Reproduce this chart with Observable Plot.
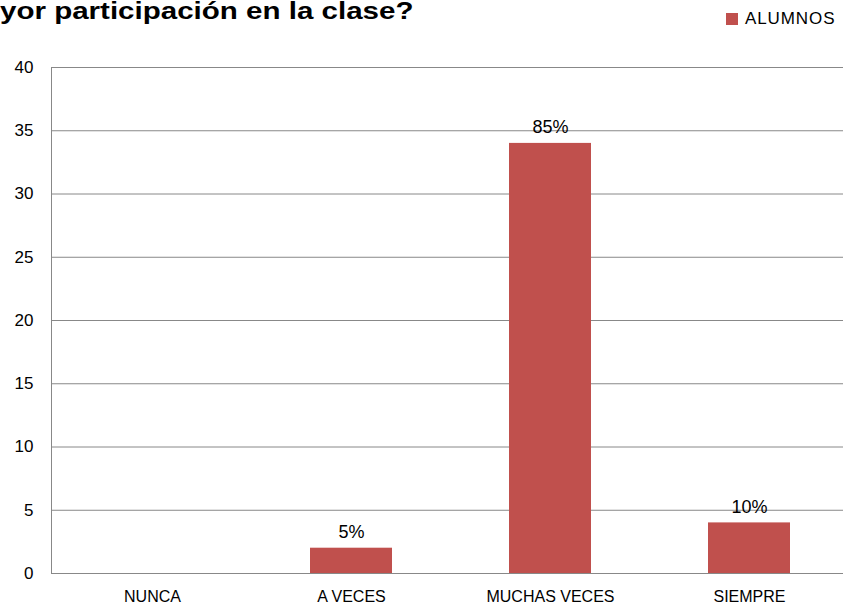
<!DOCTYPE html>
<html>
<head>
<meta charset="utf-8">
<script src="https://cdn.jsdelivr.net/npm/d3@7"></script>
<script src="https://cdn.jsdelivr.net/npm/@observablehq/plot@0.6"></script>
<style>
  html, body { margin: 0; padding: 0; background: #fff; overflow: hidden; }
  #wrap { position: relative; width: 843px; height: 606px; }
  #header { position: relative; width: 843px; height: 50px; }
  #title { position: absolute; left: 0; top: -3px; font-family: "Liberation Sans", Arial, sans-serif; font-weight: bold; font-size: 24px; color: #000; white-space: nowrap; transform: scaleX(1.23); transform-origin: left top; }
  #legend { position: absolute; left: 726px; top: 9px; font-family: "Liberation Sans", Arial, sans-serif; font-size: 17px; color: #000; display: flex; align-items: center; white-space: nowrap; }
  #legend .sw { width: 12px; height: 12px; margin-right: 7px; }
  #legtext { letter-spacing: 0.9px; }
</style>
</head>
<body>
<div id="wrap">
  <div id="header">
    <div id="title">yor participación en la clase?</div>
    <div id="legend"><span class="sw" id="sw"></span><span id="legtext"></span></div>
  </div>
  <div id="chart"></div>
</div>
<script>
const categories = ["NUNCA", "A VECES", "MUCHAS VECES", "SIEMPRE"];
const values = [0, 2, 34, 4];
const labels = ["", "5%", "85%", "10%"];
const yTicks = [0, 5, 10, 15, 20, 25, 30, 35, 40];
const seriesName = "ALUMNOS";
const barColor = "#C0504D";

document.getElementById("sw").style.background = barColor;
document.getElementById("legtext").textContent = seriesName;

const data = categories.map((c, i) => ({cat: c, value: values[i], label: labels[i]}));

const leftLine = (index, scales, values, dimensions) => {
  const x = dimensions.marginLeft + 0.5;
  const line = d3.create("svg:line")
    .attr("x1", x).attr("x2", x)
    .attr("y1", scales.y(40)).attr("y2", scales.y(0))
    .attr("stroke", "#888").attr("stroke-width", 1);
  return line.node();
};

const chart = Plot.plot({
  width: 843,
  height: 556,
  marginTop: 17,
  marginBottom: 33,
  marginLeft: 51,
  marginRight: 0,
  style: {fontFamily: "Liberation Sans, Arial, sans-serif", fontSize: "16px", color: "#000", background: "#fff"},
  x: {domain: categories, range: [51, 850], paddingInner: 0.59, paddingOuter: 0.295, label: null},
  y: {domain: [0, 40], label: null},
  marks: [
    Plot.gridY(yTicks, {stroke: "#888", strokeOpacity: 1}),
    leftLine,
    Plot.barY(data, {x: "cat", y: "value", fill: barColor}),
    Plot.text(data.filter(d => d.label), {x: "cat", y: "value", text: "label", dy: -10, lineAnchor: "bottom", fontSize: 18, fill: "#000"}),
    Plot.axisY(yTicks, {tickSize: 0, tickPadding: 18, fontSize: 17, label: null}),
    Plot.axisX({tickSize: 0, tickPadding: 17, fontSize: 16, label: null})
  ]
});
document.getElementById("chart").appendChild(chart);
</script>
</body>
</html>
